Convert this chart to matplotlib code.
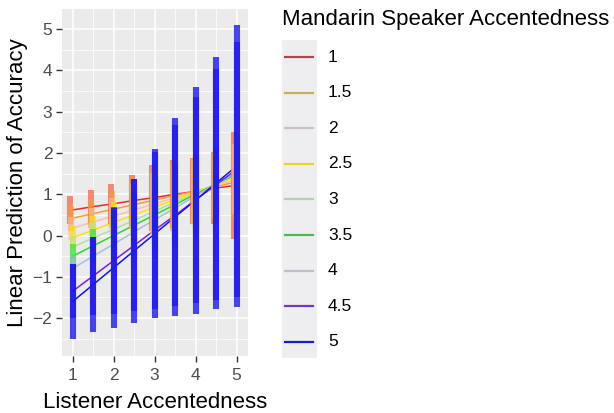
import numpy as np
import matplotlib
matplotlib.use("Agg")
import matplotlib.pyplot as plt
from matplotlib.lines import Line2D
from matplotlib.patches import Rectangle

plt.rcParams['font.family'] = ['Liberation Sans', 'DejaVu Sans']

# Listener accentedness (x) values
listener = [1, 1.5, 2, 2.5, 3, 3.5, 4, 4.5, 5]
# Mandarin speaker accentedness levels
speaker_levels = ["1", "1.5", "2", "2.5", "3", "3.5", "4", "4.5", "5"]

# Linear predictions (fit) for each speaker level at each listener value
fit_1   = [0.62, 0.70, 0.77, 0.85, 0.92, 1.00, 1.07, 1.15, 1.22]
fit_1_5 = [0.42, 0.53, 0.64, 0.75, 0.86, 0.97, 1.08, 1.19, 1.30]
fit_2   = [0.18, 0.33, 0.47, 0.62, 0.77, 0.92, 1.06, 1.21, 1.36]
fit_2_5 = [-0.05, 0.13, 0.32, 0.50, 0.69, 0.87, 1.05, 1.24, 1.42]
fit_3   = [-0.28, -0.06, 0.15, 0.37, 0.59, 0.81, 1.02, 1.24, 1.46]
fit_3_5 = [-0.50, -0.25, 0.00, 0.25, 0.50, 0.75, 1.00, 1.25, 1.50]
fit_4   = [-0.80, -0.50, -0.21, 0.09, 0.38, 0.67, 0.96, 1.25, 1.54]
fit_4_5 = [-1.35, -0.98, -0.61, -0.24, 0.13, 0.49, 0.86, 1.23, 1.60]
fit_5   = [-1.60, -1.19, -0.78, -0.37, 0.04, 0.45, 0.86, 1.27, 1.68]

# Confidence-interval half widths
hw_1   = [0.33, 0.40, 0.48, 0.62, 0.80, 0.82, 0.80, 0.88, 1.30]
hw_1_5 = [0.30, 0.35, 0.45, 0.60, 0.80, 0.85, 0.80, 0.80, 0.90]
hw_2   = [0.28, 0.33, 0.45, 0.62, 0.75, 0.80, 0.80, 0.80, 0.85]
hw_2_5 = [0.28, 0.35, 0.50, 0.70, 0.80, 0.85, 0.85, 0.80, 0.80]
hw_3   = [0.28, 0.38, 0.55, 0.75, 0.85, 0.90, 0.90, 0.85, 0.80]
hw_3_5 = [0.30, 0.40, 0.60, 0.80, 0.90, 0.95, 0.95, 0.90, 0.85]
hw_4   = [0.32, 0.45, 0.65, 0.85, 0.95, 1.00, 1.00, 0.95, 0.90]
hw_4_5 = [0.65, 0.95, 1.30, 1.60, 1.90, 2.20, 2.50, 2.80, 3.10]
hw_5   = [0.90, 1.15, 1.45, 1.75, 2.05, 2.40, 2.75, 3.05, 3.42]

fits = [fit_1, fit_1_5, fit_2, fit_2_5, fit_3, fit_3_5, fit_4, fit_4_5, fit_5]
hws = [hw_1, hw_1_5, hw_2, hw_2_5, hw_3, hw_3_5, hw_4, hw_4_5, hw_5]

line_colors = ['#F02828', '#F0A030', '#F5C0B0', '#FFE000', '#B0E0A0',
               '#30D830', '#A8C0D8', '#7A20E0', '#1212F0']
bar_colors = ['#F06040', '#F0A040', '#F5C0A8', '#FFE000', '#B0E0A0',
              '#30E030', '#A0B0D0', '#5020D0', '#1414E8']
bar_alpha = [0.7, 0.6, 0.55, 0.65, 0.55, 0.65, 0.5, 0.75, 0.78]
bar_dodge = [-0.055, -0.05, -0.03, 0.0, 0.0, 0.0, 0.0, 0.0, 0.0]
legend_colors = ['#B04848', '#C8B060', '#C8C0C4', '#E8D820', '#B8CCB8',
                 '#50B850', '#BCC0C8', '#7038C0', '#1818E0']

W, H = 614, 413
fig = plt.figure(figsize=(W / 100, H / 100), dpi=100)
ax = fig.add_axes([62 / W, 1 - 356 / H, (248 - 62) / W, (356 - 9) / H])
ax.set_facecolor('#EBEBEB')
for s in ax.spines.values():
    s.set_visible(False)

ax.set_xlim(0.74, 5.28)
ax.set_ylim(-2.92, 5.49)
ax.set_xticks([1, 2, 3, 4, 5])
ax.set_xticks([1.5, 2.5, 3.5, 4.5], minor=True)
ax.set_yticks([-2, -1, 0, 1, 2, 3, 4, 5])
ax.set_yticks([-2.5, -1.5, -0.5, 0.5, 1.5, 2.5, 3.5, 4.5], minor=True)
ax.grid(which='major', color='white', lw=1.1, zorder=0)
ax.grid(which='minor', color='white', lw=0.55, zorder=0)
ax.set_axisbelow(True)
ax.tick_params(which='major', length=4, width=1, color='#333333',
               labelsize=12.5, labelcolor='#4D4D4D', pad=3)
ax.tick_params(axis='x', which='major', pad=5)
ax.tick_params(which='minor', length=0)

x = np.array(listener)
for i in range(len(fits)):
    ax.plot(x, fits[i], color=line_colors[i], lw=1.1, zorder=2)

for i in range(len(fits)):
    f = np.array(fits[i])
    h = np.array(hws[i])
    ax.vlines(x + bar_dodge[i], f - h, f + h, colors=bar_colors[i], lw=4.4,
              alpha=bar_alpha[i], zorder=3)

ax.set_xlabel('Listener Accentedness', fontsize=16, labelpad=6)
ax.set_ylabel('Linear Prediction of Accuracy', fontsize=16, labelpad=3)

# Legend (manual, ggplot-like)
fig.text(282 / W, 1 - 20 / H, 'Mandarin Speaker Accentedness', fontsize=16,
         ha='left', va='center')
fig.patches.append(Rectangle((282 / W, 1 - 358 / H), 35 / W, 318 / H,
                             transform=fig.transFigure, facecolor='#EEEEF0',
                             edgecolor='none'))
for i, lab in enumerate(speaker_levels):
    yc = 57 + i * 35.6
    fig.lines.append(Line2D([285 / W, 313 / W], [1 - yc / H, 1 - yc / H],
                            transform=fig.transFigure,
                            color=legend_colors[i], lw=1.6))
    fig.text(328 / W, 1 - yc / H, lab, fontsize=12.5, ha='left', va='center')

fig.savefig('out.png', dpi=100)
